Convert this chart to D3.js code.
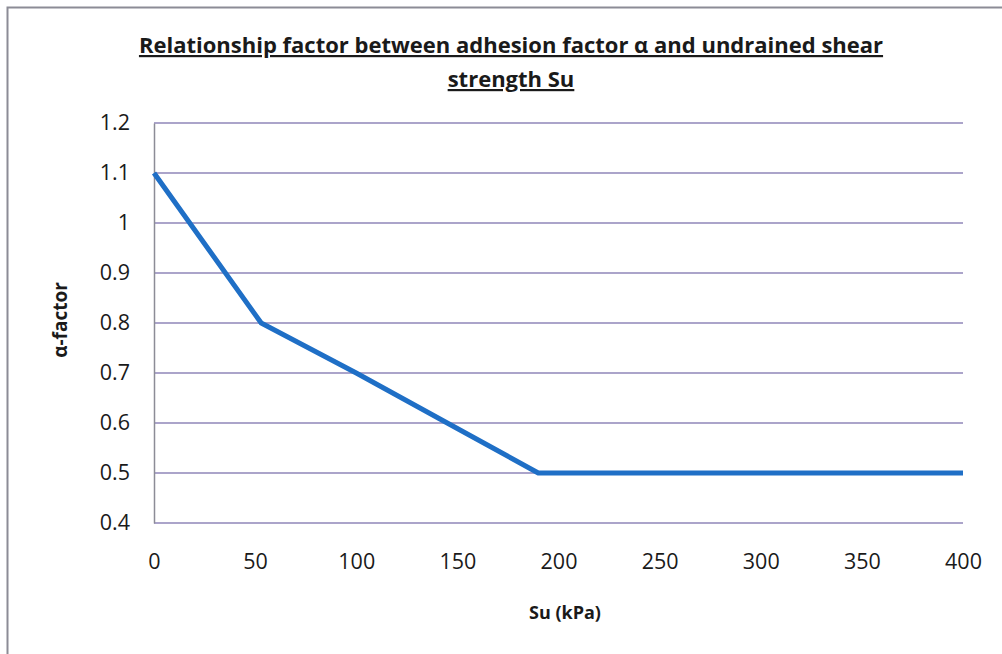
<!DOCTYPE html>
<html>
<head>
<meta charset="utf-8">
<script src="https://cdn.jsdelivr.net/npm/d3@7"></script>
<style>
  body { margin: 0; background: #fff; }
  text { font-family: "Open Sans", "Liberation Sans", sans-serif; fill: #1a1a1a; }
  .chart-title { font-weight: bold; font-size: 22px; text-decoration: underline; }
  .axis-title { font-weight: bold; font-size: 18px; }
  .tick text { font-size: 21.5px; fill: #1a1a1a; }
</style>
</head>
<body>
<div id="chart"></div>
<script>
(function () {

  // data
  const suValues = [0, 53, 100, 145, 190, 400];
  const alphaValues = [1.1, 0.8, 0.7, 0.6, 0.5, 0.5];
  const xTicks = [0, 50, 100, 150, 200, 250, 300, 350, 400];
  const yTicks = [0.4, 0.5, 0.6, 0.7, 0.8, 0.9, 1, 1.1, 1.2];

  const svg_width = 1002;
  const svg_height = 654;
  const margin = { top: 123, right: 39, bottom: 131, left: 154 },
    width = svg_width - margin.left - margin.right,
    height = svg_height - margin.top - margin.bottom;

  const x = d3.scaleLinear().domain([0, 400]).range([0, width]);
  const y = d3.scaleLinear().domain([0.4, 1.2]).range([height, 0]);

  const root = d3.select("#chart").append("svg")
    .attr("width", svg_width)
    .attr("height", svg_height);

  // outer frame (left and top edges visible)
  root.append("path")
    .attr("d", "M7.5," + svg_height + "V7.5H" + svg_width)
    .attr("fill", "none")
    .attr("stroke", "#8c8c96")
    .attr("stroke-width", 2);

  // title
  root.append("text")
    .attr("class", "chart-title")
    .attr("x", 511).attr("y", 53)
    .attr("text-anchor", "middle")
    .text("Relationship factor between adhesion factor \u03b1 and undrained shear");
  root.append("text")
    .attr("class", "chart-title")
    .attr("x", 511).attr("y", 87)
    .attr("text-anchor", "middle")
    .text("strength Su");

  const svg = root.append("g")
    .attr("transform", "translate(" + margin.left + "," + margin.top + ")");

  // gridlines
  svg.append("g")
    .selectAll("line")
    .data(yTicks)
    .enter().append("line")
    .attr("x1", 0).attr("x2", width)
    .attr("y1", d => y(d)).attr("y2", d => y(d))
    .attr("stroke", "#8f86b8")
    .attr("stroke-width", 1.5);

  // y axis
  const yAxis = svg.append("g")
    .call(d3.axisLeft(y).tickValues(yTicks).tickSize(0).tickPadding(24).tickFormat(d3.format("")));
  yAxis.select(".domain").attr("stroke", "#8c8c96").attr("stroke-width", 1.5);

  // x axis
  const xAxis = svg.append("g")
    .attr("transform", "translate(0," + height + ")")
    .call(d3.axisBottom(x).tickValues(xTicks).tickSize(0).tickPadding(31));
  xAxis.select(".domain").remove();

  // series line
  const pts = suValues.map((s, i) => [s, alphaValues[i]]);
  svg.append("path")
    .datum(pts)
    .attr("fill", "none")
    .attr("stroke", "#1f6fc6")
    .attr("stroke-width", 5)
    .attr("stroke-linejoin", "round")
    .attr("d", d3.line().x(d => x(d[0])).y(d => y(d[1])));

  // axis titles
  root.append("text")
    .attr("class", "axis-title")
    .attr("x", 565).attr("y", 619)
    .attr("text-anchor", "middle")
    .text("Su (kPa)");
  root.append("text")
    .attr("class", "axis-title")
    .attr("transform", "translate(67,320) rotate(-90)")
    .attr("text-anchor", "middle")
    .style("font-size", "19px")
    .text("\u03b1-factor");

})();
</script>
</body>
</html>
